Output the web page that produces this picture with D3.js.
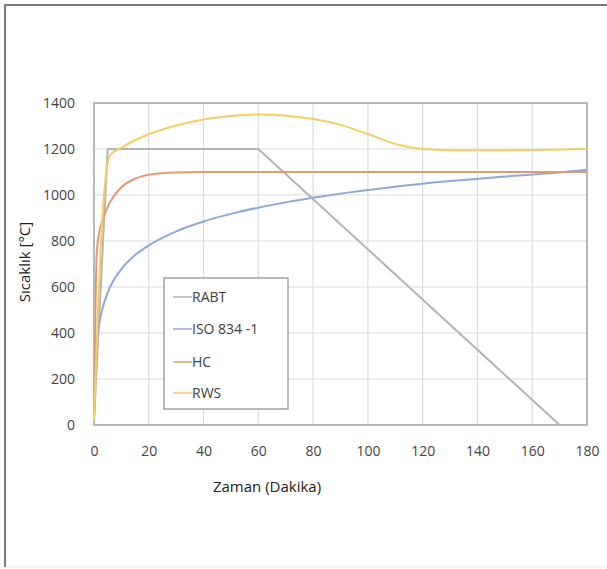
<!DOCTYPE html>
<html>
<head>
<meta charset="utf-8">
<script src="https://cdn.jsdelivr.net/npm/d3@7"></script>
<style>
  html, body { margin: 0; padding: 0; background: #fff; }
  svg { display: block; }
</style>
</head>
<body>
<svg id="chart" width="607" height="569"></svg>
<script>
// values (time in minutes, temperature in °C)
var seriesNames = ["RABT", "ISO 834 -1", "HC", "RWS"];
var seriesColors = ["#b3b3b3", "#8eaad4", "#e39a74", "#f2cf62"];

var rabtT = [0, 5, 60, 170];
var rabtV = [20, 1200, 1200, 0];

var isoT = [0, 1, 2, 3, 5, 7, 10, 15, 20, 30, 40, 50, 60, 70, 80, 90, 100, 110, 120, 135, 150, 165, 180];
var isoV = [20, 349, 445, 502, 576, 626, 678, 739, 781, 842, 885, 918, 945, 968, 988, 1006, 1022, 1036, 1049, 1065, 1080, 1093, 1110];

var hcT = [0, 1, 2, 3, 5, 7, 10, 15, 20, 30, 40, 60, 120, 180];
var hcV = [20, 743, 844, 887, 948, 991, 1034, 1071, 1088, 1098, 1100, 1100, 1100, 1100];

var rwsT = [0, 3, 5, 6, 10, 15, 20, 30, 40, 50, 60, 70, 80, 90, 100, 110, 120, 130, 150, 180];
var rwsV = [20, 890, 1140, 1175, 1205, 1238, 1264, 1302, 1328, 1344, 1350, 1345, 1330, 1305, 1265, 1222, 1200, 1195, 1195, 1200];

var xTicks = [0, 20, 40, 60, 80, 100, 120, 140, 160, 180];
var yTicks = [0, 200, 400, 600, 800, 1000, 1200, 1400];

var W = 607, H = 569;
var L = 94, R = 587, T = 103, B = 425;
var font = "'Open Sans', sans-serif";

var vis = d3.select("#chart");

// outer frame
vis.append("line").attr("x1", 5).attr("x2", W).attr("y1", 5).attr("y2", 5)
    .attr("stroke", "#7a7a7a").attr("stroke-width", 2);
vis.append("line").attr("x1", 5).attr("x2", 5).attr("y1", 4).attr("y2", H - 2)
    .attr("stroke", "#7a7a7a").attr("stroke-width", 2);
vis.append("line").attr("x1", 6).attr("x2", W).attr("y1", H - 2).attr("y2", H - 2)
    .attr("stroke", "#e6e6e6").attr("stroke-width", 1);

var xScale = d3.scaleLinear().range([L, R]).domain([0, 180]);
var yScale = d3.scaleLinear().range([B, T]).domain([0, 1400]);

// grid
vis.append("g").selectAll("line").data(yTicks).enter().append("line")
    .attr("x1", L).attr("x2", R)
    .attr("y1", function(d) { return yScale(d); })
    .attr("y2", function(d) { return yScale(d); })
    .attr("stroke", "#dcdcdc").attr("stroke-width", 1.2);
vis.append("g").selectAll("line").data(xTicks).enter().append("line")
    .attr("y1", T).attr("y2", B)
    .attr("x1", function(d) { return xScale(d); })
    .attr("x2", function(d) { return xScale(d); })
    .attr("stroke", "#dcdcdc").attr("stroke-width", 1.2);

// plot border
vis.append("rect").attr("x", L).attr("y", T).attr("width", R - L).attr("height", B - T)
    .attr("fill", "none").attr("stroke", "#a6a6a6").attr("stroke-width", 1.5);

// axes (labels only, lines come from the border)
var xAxis = d3.axisBottom(xScale).tickValues(xTicks).tickSize(0).tickPadding(21)
    .tickFormat(d3.format("d"));
var yAxis = d3.axisLeft(yScale).tickValues(yTicks).tickSize(0).tickPadding(19)
    .tickFormat(d3.format("d"));

var gx = vis.append("g").attr("transform", "translate(0," + B + ")").call(xAxis);
var gy = vis.append("g").attr("transform", "translate(" + L + ",0)").call(yAxis);
[gx, gy].forEach(function(g) {
  g.select(".domain").remove();
  g.selectAll("text").attr("fill", "#444")
      .style("font-family", font).style("font-size", "14px");
});

// lines
var lineGen = d3.line()
    .x(function(p) { return xScale(p[0]); })
    .y(function(p) { return yScale(p[1]); });

var allT = [rabtT, isoT, hcT, rwsT];
var allV = [rabtV, isoV, hcV, rwsV];
var curves = [d3.curveLinear, d3.curveMonotoneX, d3.curveMonotoneX, d3.curveMonotoneX];
for (var k = 0; k < seriesNames.length; k++) {
  var ld = [];
  for (var i = 0; i < allT[k].length; i++)
    ld.push([allT[k][i], allV[k][i]]);
  vis.append("path")
      .attr("d", lineGen.curve(curves[k])(ld))
      .attr("stroke", seriesColors[k])
      .attr("stroke-width", 2)
      .attr("fill", "none");
}

// legend
var leg = vis.append("g");
leg.append("rect").attr("x", 164).attr("y", 278).attr("width", 124).attr("height", 131)
    .attr("fill", "#fff").attr("stroke", "#8c8c8c").attr("stroke-width", 1.2);
var legY = [297, 329, 362, 393];
seriesNames.forEach(function(name, k) {
  leg.append("line").attr("x1", 173).attr("x2", 192)
      .attr("y1", legY[k]).attr("y2", legY[k])
      .attr("stroke", seriesColors[k]).attr("stroke-width", 1.5);
  leg.append("text").attr("x", 192).attr("y", legY[k]).attr("dy", "0.35em")
      .attr("fill", "#404040")
      .style("font-family", font).style("font-size", "14px")
      .text(name);
});

// axis titles
vis.append("text").attr("x", 267).attr("y", 492).attr("text-anchor", "middle")
    .attr("fill", "#222")
    .style("font-family", font).style("font-size", "15px")
    .text("Zaman (Dakika)");
vis.append("text")
    .attr("transform", "translate(30,262) rotate(-90)")
    .attr("text-anchor", "middle").attr("fill", "#222")
    .style("font-family", font).style("font-size", "15px")
    .text("Sıcaklık [°C]");
</script>
</body>
</html>
